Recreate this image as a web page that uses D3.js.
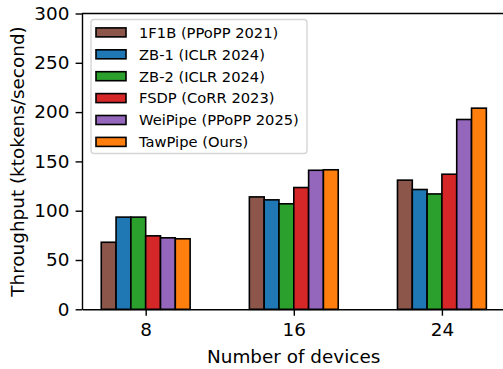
<!DOCTYPE html>
<html>
<head>
<meta charset="utf-8">
<script src="https://cdn.jsdelivr.net/npm/d3@7"></script>
<style>
  html, body { margin: 0; padding: 0; background: #fff; overflow: hidden; }
  svg { display: block; }
  text { font-family: "DejaVu Sans", sans-serif; }
</style>
</head>
<body>
<div id="chart"></div>
<script>
// data
var devices = ["8", "16", "24"];
var methods = ["1F1B (PPoPP 2021)", "ZB-1 (ICLR 2024)", "ZB-2 (ICLR 2024)",
               "FSDP (CoRR 2023)", "WeiPipe (PPoPP 2025)", "TawPipe (Ours)"];
var colors = ["#8c564b", "#1f77b4", "#2ca02c", "#d62728", "#9467bd", "#ff7f0e"];
var s1f1b    = [68, 114, 131];
var sZb1     = [93.5, 111, 121.5];
var sZb2     = [93.5, 107, 117];
var sFsdp    = [74.5, 123.5, 137];
var sWeipipe = [72.5, 141, 192.5];
var sTawpipe = [71.5, 141.5, 204];
var yTicks = [0, 50, 100, 150, 200, 250, 300];

var series = [s1f1b, sZb1, sZb2, sFsdp, sWeipipe, sTawpipe];

var width = 503, height = 369;
var barW = 0.1;
var fs = 18.4; // 10pt

var svg = d3.select("#chart").append("svg")
    .attr("width", width)
    .attr("height", height);

// right limit falls just past the picture edge, so the right spine is cut off
var x = d3.scaleLinear().domain([-0.43, 2.43]).range([82, 505.6]);
var y = d3.scaleLinear().domain([0, 300]).range([309.3, 13.5]);

// bars
series.forEach(function (vals, i) {
    svg.append("g").selectAll("rect")
        .data(vals)
        .enter()
        .append("rect")
        .attr("x", function (d, j) { return x(j + (i - 2.5) * barW - barW / 2); })
        .attr("width", x(barW) - x(0))
        .attr("y", function (d) { return y(d); })
        .attr("height", function (d) { return y(0) - y(d); })
        .attr("fill", colors[i])
        .attr("stroke", "#000")
        .attr("stroke-width", 1.6);
});

// top spine
svg.append("line")
    .attr("x1", x.range()[0]).attr("x2", width)
    .attr("y1", y.range()[1]).attr("y2", y.range()[1])
    .attr("stroke", "#000").attr("stroke-width", 1.4);

// axes
var xAxis = svg.append("g")
    .attr("transform", "translate(0," + y(0) + ")")
    .call(d3.axisBottom(x).tickValues([0, 1, 2])
        .tickFormat(function (d) { return devices[d]; })
        .tickSizeInner(6.4).tickSizeOuter(0).tickPadding(7.6));

var yAxis = svg.append("g")
    .attr("transform", "translate(" + x.range()[0] + ",0)")
    .call(d3.axisLeft(y).tickValues(yTicks)
        .tickSizeInner(6.4).tickSizeOuter(0).tickPadding(6.2));

[xAxis, yAxis].forEach(function (a) {
    a.select(".domain").attr("stroke-width", 1.4);
    a.selectAll(".tick line").attr("stroke-width", 1.4);
    a.selectAll("text").style("font-size", fs + "px").attr("fill", "#000")
        .style("font-family", "DejaVu Sans");
});

svg.append("text")
    .attr("x", 293.7).attr("y", 363.3)
    .attr("text-anchor", "middle")
    .style("font-size", fs + "px")
    .text("Number of devices");

svg.append("text")
    .attr("transform", "translate(24,161.5) rotate(-90)")
    .attr("text-anchor", "middle")
    .style("font-size", fs + "px")
    .text("Throughput (ktokens/second)");

// legend
var legend = svg.append("g");
legend.append("rect")
    .attr("x", 91).attr("y", 19.5)
    .attr("width", 216).attr("height", 134)
    .attr("rx", 3)
    .attr("fill", "#fff").attr("fill-opacity", 0.8)
    .attr("stroke", "#d6d6d6").attr("stroke-width", 1.4);

var item = legend.selectAll("g.item")
    .data(methods)
    .enter()
    .append("g")
    .attr("class", "item")
    .attr("transform", function (d, i) { return "translate(0," + (32.4 + i * 21.9) + ")"; });

item.append("rect")
    .attr("x", 96).attr("y", -4.5)
    .attr("width", 30).attr("height", 9)
    .attr("fill", function (d, i) { return colors[i]; })
    .attr("stroke", "#000").attr("stroke-width", 1.6);

item.append("text")
    .attr("x", 139).attr("y", 5.3)
    .style("font-size", "14.7px")
    .text(function (d) { return d; });
</script>
</body>
</html>
